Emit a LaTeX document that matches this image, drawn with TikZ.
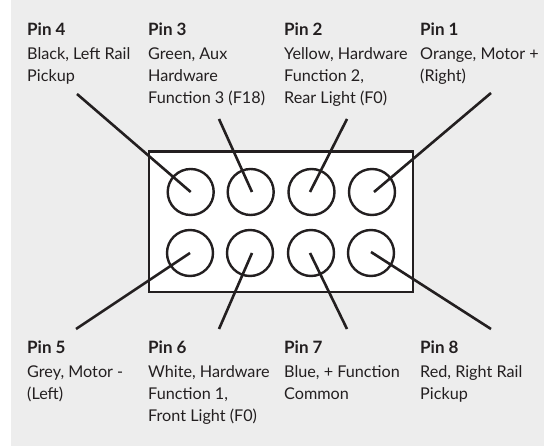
\documentclass[tikz,border=0pt]{standalone}
\usepackage{fontspec}
\setmainfont{Lato}
\definecolor{panel}{HTML}{EDEDED}
\definecolor{ink}{HTML}{231F20}
\tikzset{x=1pt,y=-1pt,
  pin/.style={circle,draw=ink,line width=2.4pt,minimum size=46pt,inner sep=0pt},
  lead/.style={draw=ink,line width=2.6pt},
  lab/.style={anchor=north west,inner sep=0pt,align=left,font=\fontsize{16.2pt}{22pt}\selectfont,text=ink}}
\newcommand{\pinlab}[1]{{\fontsize{17pt}{22pt}\selectfont\textbf{#1}}\\[1.5pt]}
\begin{document}
\begin{tikzpicture}
\useasboundingbox (0,0) rectangle (544,446);
\fill[panel] (11,0) rectangle (544,446);
\fill[white,draw=ink,line width=2.8pt] (149,151.5) rectangle (413,292);
\node[pin] (p4) at (190.7,192) {};
\node[pin] (p3) at (250.7,192) {};
\node[pin] (p2) at (311.5,192) {};
\node[pin] (p1) at (372,192) {};
\node[pin] (p5) at (190,253) {};
\node[pin] (p6) at (250,253) {};
\node[pin] (p7) at (311,253) {};
\node[pin] (p8) at (371,253) {};
\coordinate (e4) at (77,94);
\coordinate (e3) at (219,119);
\coordinate (e2) at (347,119);
\coordinate (e1) at (491,93);
\coordinate (e5) at (76,329);
\coordinate (e6) at (219,329);
\coordinate (e7) at (347,329);
\coordinate (e8) at (491,329);
\draw[lead] (e4) -- (p4.center);
\draw[lead] (e3) -- (252,192);
\draw[lead] (e2) -- (310,192);
\draw[lead] (e1) -- (374,192);
\draw[lead] (e5) -- (p5.center);
\draw[lead] (e6) -- (252,253);
\draw[lead] (e7) -- (310,253);
\draw[lead] (e8) -- (371,252);
\node[lab] (t4) at (27,23) {\pinlab{Pin 4}Black, Left Rail\\Pickup};
\node[lab] (t3) at (148,23) {\pinlab{Pin 3}Green, Aux\\Hardware\\Function 3 (F18)};
\node[lab] (t2) at (284,23) {\pinlab{Pin 2}Yellow, Hardware\\Function 2,\\Rear Light (F0)};
\node[lab] (t1) at (420,23) {\pinlab{Pin 1}Orange, Motor +\\(Right)};
\node[lab] (t5) at (27,341) {\pinlab{Pin 5}Grey, Motor -\\(Left)};
\node[lab] (t6) at (148,341) {\pinlab{Pin 6}White, Hardware\\Function 1,\\Front Light (F0)};
\node[lab] (t7) at (284,341) {\pinlab{Pin 7}Blue, + Function\\Common};
\node[lab] (t8) at (420,341) {\pinlab{Pin 8}Red, Right Rail\\Pickup};
\end{tikzpicture}
\end{document}
